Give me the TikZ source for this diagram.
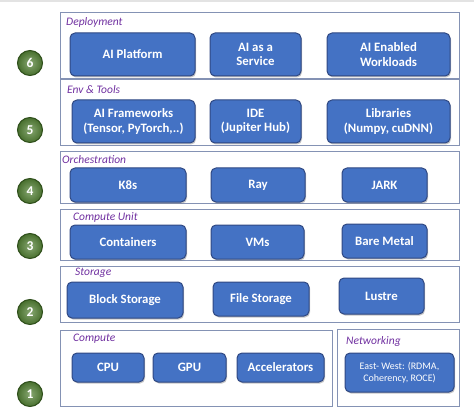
\documentclass[tikz,border=0pt]{standalone}
\usepackage{fontspec}
\setmainfont{Carlito}
\usepackage{tikz}
\usetikzlibrary{shadows,positioning}
\definecolor{boxblue}{RGB}{68,114,196}
\definecolor{boxedge}{RGB}{47,72,130}
\definecolor{framecol}{RGB}{132,146,180}
\definecolor{labelcol}{RGB}{112,48,160}
\definecolor{ballgreen}{RGB}{84,130,53}
\definecolor{balledge}{RGB}{46,78,26}

\begin{document}
\begin{tikzpicture}[x=1pt,y=-1pt,
  blk/.style={draw=boxedge,line width=1pt,fill=boxblue,rounded corners=5pt,
    text=white,font=\fontsize{12.8}{14.5}\selectfont\bfseries,align=center,inner sep=1pt,
    drop shadow={shadow xshift=1pt,shadow yshift=-1.5pt,opacity=0.45}},
  layer/.style={draw=framecol,line width=1pt},
  lbl/.style={anchor=west,inner sep=0pt,text=labelcol,font=\fontsize{11.5}{13}\selectfont\itshape},
  ball/.style={circle,draw=balledge,line width=1pt,inner color=ballgreen!70!white,
    outer color=ballgreen!85!black,minimum size=25pt,inner sep=0pt,text=white,
    font=\fontsize{13.5}{15}\selectfont\bfseries}]
\useasboundingbox (0,0) rectangle (474,409);
\fill[gray!22] (0,0) rectangle (474,2.5);

% layer frames
\draw[layer] (60,13) rectangle (459,79);
\draw[layer] (60,80) rectangle (459,146);
\draw[layer] (60,152) rectangle (459,203);
\draw[layer] (60,209) rectangle (459,260);
\draw[layer] (60,266) rectangle (459,322);
\draw[layer] (60,330) rectangle (332,406);
\draw[layer] (337,329) rectangle (459,406);

\node[lbl] (ldep) at (66,22) {Deployment};
\node[lbl] (lenv) at (67,90) {Env \& Tools};
\node[lbl] (lorch) at (62,160) {Orchestration};
\node[lbl] (lunit) at (73,217) {Compute Unit};
\node[lbl] (lstor) at (75,273) {Storage};
\node[lbl] (lcomp) at (73,339) {Compute};
\node[lbl] (lnet) at (346,341) {Networking};

% level markers
\foreach \n/\y in {6/63,5/130,4/191,3/246,2/312,1/394}
  \node[ball] (lvl\n) at (30,\y) {\n};

% deployment
\node[blk,minimum width=125pt,minimum height=43pt] (plat) at (132.5,54.5) {AI Platform};
\node[blk,minimum width=91pt,minimum height=43pt] (aas) at (255.5,54.5) {AI as a\\Service};
\node[blk,minimum width=123pt,minimum height=43pt] (awl) at (388.5,54.5) {AI Enabled\\Workloads};
% env & tools
\node[blk,minimum width=123pt,minimum height=43pt] (fw) at (133.5,121.5) {AI Frameworks\\(Tensor, PyTorch,..)};
\node[blk,minimum width=91pt,minimum height=43pt] (ide) at (255.5,121.5) {IDE\\(Jupiter Hub)};
\node[blk,minimum width=123pt,minimum height=43pt] (lib) at (388.5,121.5) {Libraries\\(Numpy, cuDNN)};
% orchestration
\node[blk,minimum width=116pt,minimum height=34pt] (k8s) at (128,185) {K8s};
\node[blk,minimum width=94pt,minimum height=34pt] (ray) at (258,185) {Ray};
\node[blk,minimum width=85pt,minimum height=34pt] (jark) at (384.5,185) {JARK};
% compute unit
\node[blk,minimum width=116pt,minimum height=34pt] (cont) at (128,242) {Containers};
\node[blk,minimum width=93pt,minimum height=34pt] (vms) at (257.5,242) {VMs};
\node[blk,minimum width=85pt,minimum height=34pt] (bare) at (384.5,241) {Bare Metal};
% storage
\node[blk,minimum width=116pt,minimum height=36pt] (block) at (125,300) {Block Storage};
\node[blk,minimum width=96pt,minimum height=34pt] (file) at (261,299) {File Storage};
\node[blk,minimum width=85pt,minimum height=36pt] (lustre) at (381.5,296) {Lustre};
% compute
\node[blk,minimum width=72pt,minimum height=29pt] (cpu) at (108,367.5) {CPU};
\node[blk,minimum width=73pt,minimum height=29pt] (gpu) at (189.5,367.5) {GPU};
\node[blk,minimum width=87pt,minimum height=29pt] (acc) at (280.5,367.5) {Accelerators};
% networking
\node[blk,minimum width=109pt,minimum height=39pt,font=\fontsize{10}{12.5}\selectfont] (ew) at (399.5,372.5) {East- West: (RDMA,\\Coherency, ROCE)};
\end{tikzpicture}
\end{document}
